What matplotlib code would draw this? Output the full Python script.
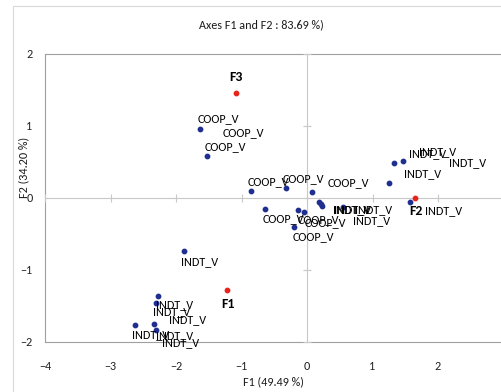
import matplotlib.pyplot as plt
from matplotlib.patches import Rectangle

obs_x = [-1.626, -1.526, -0.848, -0.327, 0.081, -0.644, -0.133, -0.046, -0.199,
         0.176, 0.207, 0.235, 0.557,
         1.324, 1.462, 1.247, 1.580,
         -1.871, -2.270, -2.311, -2.331, -2.623, -2.305]
obs_y = [0.958, 0.583, 0.088, 0.126, 0.074, -0.158, -0.168, -0.206, -0.415,
         -0.056, -0.091, -0.118, -0.136,
         0.485, 0.508, 0.206, -0.066,
         -0.741, -1.366, -1.469, -1.752, -1.776, -1.836]
obs_labels = ['COOP_V'] * 9 + ['INDT_V'] * 14
# label offsets in pixels (dx to left edge of text, dy up to text centre)
label_offsets = [(-3, 9.5), (-2.5, 9), (-3.5, 10), (-3, 10), (15, 10), (-2, -10), (-1, -10), (1, -10), (-1, -9.5),
                 (14.5, -8), (13, -5.5), (33, -4), (10, -13),
                 (15, 9), (16, 9), (15, 9), (15, -8),
                 (-3, -11), (-2, -9), (-3, -8), (2, -12), (-3, -9), (6, -13)]

# labels whose point is hidden under the others
extra_x = [-1.288, 2.163, -2.101]
extra_y = [0.895, 0.490, -1.692]
extra_labels = ['COOP_V', 'INDT_V', 'INDT_V']

# factors
fac_x = [-1.219, 1.646, -1.078]
fac_y = [-1.287, -0.004, 1.450]
fac_labels = ['F1', 'F2', 'F3']
fac_offsets = [(1, -14), (1, -13.5), (0, 16)]

x_ticks = [-4, -3, -2, -1, 0, 1, 2, 3]
y_ticks = [-2, -1, 0, 1, 2]

# Carlito = Calibri metrics, which is what Excel used
plt.rcParams['font.family'] = ['Carlito', 'DejaVu Sans']
fs = 8.7

fig = plt.figure(figsize=(5.01, 3.92), dpi=100)
fig.patch.set_facecolor('white')
fig.patches.append(Rectangle((13 / 501, -0.5), 2, 386 / 392 + 0.5, transform=fig.transFigure,
                             fill=False, edgecolor='#d9d9d9', linewidth=0.8))

pos = [45 / 501, 50.5 / 392, 458.5 / 501, 288 / 392]

# frame + outer tick labels
ax2 = fig.add_axes(pos)
ax2.set_xlim(-4, 3)
ax2.set_ylim(-2, 2)
ax2.set_xticks(x_ticks)
ax2.set_yticks(y_ticks)
ax2.tick_params(length=0, labelsize=fs, labelcolor='#222222')
ax2.tick_params(axis='x', pad=14)
ax2.tick_params(axis='y', pad=9)
for s in ['top', 'left', 'bottom']:
    ax2.spines[s].set_color('#a0a0a0')
ax2.spines['right'].set_visible(False)

# axes crossing at origin
ax = fig.add_axes(pos, sharex=ax2, sharey=ax2)
ax.patch.set_alpha(0)
ax.spines['left'].set_position(('data', 0))
ax.spines['bottom'].set_position(('data', 0))
ax.spines['top'].set_visible(False)
ax.spines['right'].set_visible(False)
for s in ['left', 'bottom']:
    ax.spines[s].set_color('#c8c8c8')
ax.tick_params(direction='inout', length=6, color='#c8c8c8', labelleft=False, labelbottom=False)

ax.scatter(obs_x, obs_y, s=10, color='#1f2f8f', zorder=3, clip_on=False)
ax.scatter(fac_x, fac_y, s=10, color='#e8231c', zorder=3, clip_on=False)

for x, y, lab, (dx, dy) in zip(obs_x, obs_y, obs_labels, label_offsets):
    ax.annotate(lab, (x, y), xytext=(dx, dy), textcoords='offset pixels',
                ha='left', va='center', fontsize=fs, color='#000000', annotation_clip=False)
for x, y, lab in zip(extra_x, extra_y, extra_labels):
    ax.text(x, y, lab, ha='left', va='center', fontsize=fs, color='#000000')
for x, y, lab, (dx, dy) in zip(fac_x, fac_y, fac_labels, fac_offsets):
    ax.annotate(lab, (x, y), xytext=(dx, dy), textcoords='offset pixels',
                ha='center', va='center', fontsize=10, fontweight='bold', color='#000000',
                annotation_clip=False)

fig.text(261.5 / 501, (392 - 25) / 392, 'Axes F1 and F2 : 83.69 %)', ha='center', va='center',
         fontsize=fs, color='#1a1a1a')
fig.text(273.5 / 501, (392 - 382) / 392, 'F1 (49.49 %)', ha='center', va='center',
         fontsize=fs, color='#1a1a1a')
fig.text(24 / 501, (392 - 167) / 392, 'F2 (34.20 %)', ha='center', va='center', rotation=90,
         fontsize=fs, color='#1a1a1a')

fig.savefig('out.png', dpi=100)
